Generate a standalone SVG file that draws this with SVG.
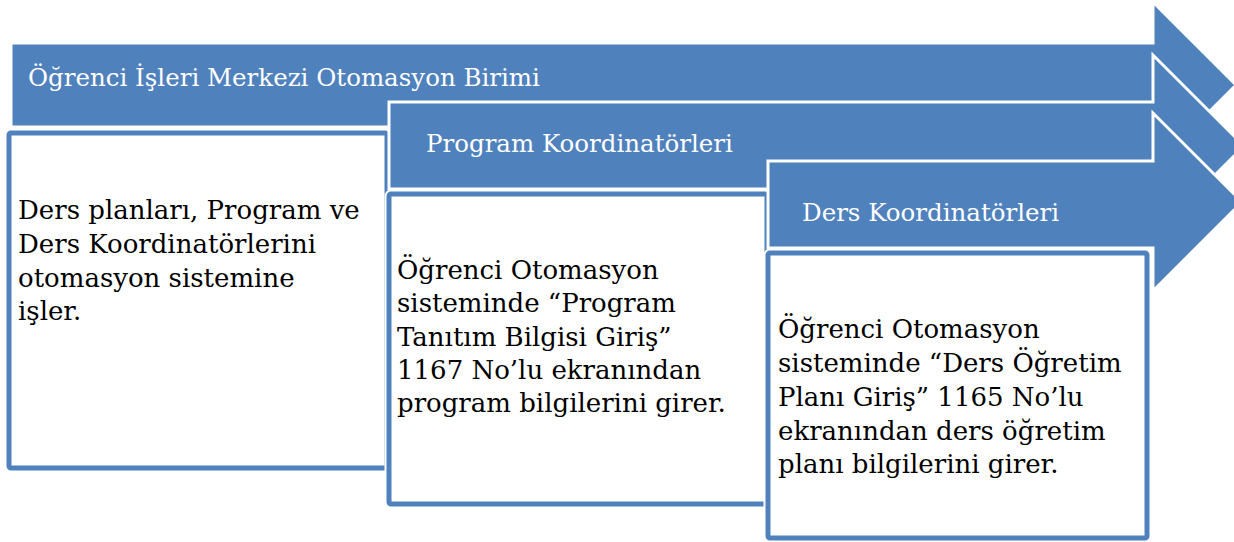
<svg xmlns="http://www.w3.org/2000/svg" width="1234" height="542" viewBox="0 0 1234 542">
<style>
.arrow{fill:#4F81BD;stroke:#FFFFFF;stroke-width:3;stroke-linejoin:miter}
.halo{fill:#FFFFFF;stroke:#FFFFFF;stroke-width:9}
.box{fill:#FFFFFF;stroke:#4F81BD;stroke-width:5}
.hd{font-family:"DejaVu Serif","Liberation Serif",serif;font-size:24.5px;fill:#FFFFFF}
.tx{font-family:"DejaVu Serif","Liberation Serif",serif;font-size:26px;fill:#000000}
</style>
<rect width="1234" height="542" fill="#FFFFFF"/>
<g id="arrow1">
<path class="arrow" d="M11,43 H1153 V2 L1236,85 L1153,168 V127 H11 Z"/>
<text class="hd" x="28" y="86">Öğrenci İşleri Merkezi Otomasyon Birimi</text>
</g>
<g id="box1">
<rect class="halo" x="9" y="133" width="378" height="335" rx="2"/>
<rect class="box" x="9" y="133" width="378" height="335" rx="2"/>
<text class="tx" x="18" y="219">Ders planları, Program ve</text>
<text class="tx" x="18" y="253">Ders Koordinatörlerini</text>
<text class="tx" x="18" y="287">otomasyon sistemine</text>
<text class="tx" x="18" y="320">işler.</text>
</g>
<g id="arrow2">
<path class="arrow" d="M389,102 H1153 V55 L1244,146 L1153,237 V189 H389 Z"/>
<text class="hd" x="426" y="152">Program Koordinatörleri</text>
</g>
<g id="box2">
<rect class="halo" x="389" y="194" width="378" height="310" rx="2"/>
<rect class="box" x="389" y="194" width="378" height="310" rx="2"/>
<text class="tx" x="397" y="279">Öğrenci Otomasyon</text>
<text class="tx" x="397" y="312">sisteminde “Program</text>
<text class="tx" x="397" y="346">Tanıtım Bilgisi Giriş”</text>
<text class="tx" x="397" y="379">1167 No’lu ekranından</text>
<text class="tx" x="397" y="412">program bilgilerini girer.</text>
</g>
<g id="arrow3">
<path class="arrow" d="M768,161 H1153 V113 L1242,202 L1153,291 V248 H768 Z"/>
<text class="hd" x="802" y="221">Ders Koordinatörleri</text>
</g>
<g id="box3">
<rect class="halo" x="768" y="253" width="379" height="285" rx="2"/>
<rect class="box" x="768" y="253" width="379" height="285" rx="2"/>
<text class="tx" x="778" y="338">Öğrenci Otomasyon</text>
<text class="tx" x="778" y="372">sisteminde “Ders Öğretim</text>
<text class="tx" x="778" y="406">Planı Giriş” 1165 No’lu</text>
<text class="tx" x="778" y="440">ekranından ders öğretim</text>
<text class="tx" x="778" y="473">planı bilgilerini girer.</text>
</g>
<g id="connectors"></g>
</svg>
